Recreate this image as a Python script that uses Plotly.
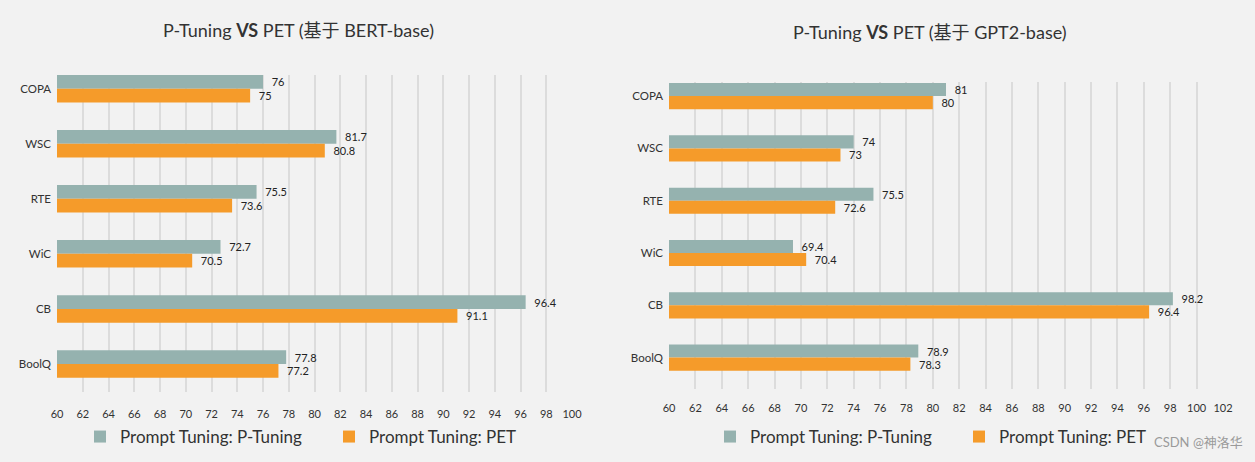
import plotly.graph_objects as go

categories = ["COPA", "WSC", "RTE", "WiC", "CB", "BoolQ"]

bert_ptuning = [76, 81.7, 75.5, 72.7, 96.4, 77.8]
bert_pet = [75, 80.8, 73.6, 70.5, 91.1, 77.2]

gpt2_ptuning = [81, 74, 75.5, 69.4, 98.2, 78.9]
gpt2_pet = [80, 73, 72.6, 70.4, 96.4, 78.3]

left_ticks = list(range(60, 101, 2))
right_ticks = list(range(60, 103, 2))

series_names = ["Prompt Tuning: P-Tuning", "Prompt Tuning: PET"]
titles = ["P-Tuning <b>VS</b> PET (基于 BERT-base)", "P-Tuning <b>VS</b> PET (基于 GPT2-base)"]

GRAY = "#95B2AF"
ORANGE = "#F59B2A"
BG = "#F2F2F2"
FONT = "Lato, 'Noto Sans CJK SC', sans-serif"

fig = go.Figure()

def fmt(vals):
    return [f"  {v:g}" for v in vals]

for xa, ya, leg, vals_pt, vals_pet in [
    ("x", "y", "legend", bert_ptuning, bert_pet),
    ("x2", "y2", "legend2", gpt2_ptuning, gpt2_pet),
]:
    fig.add_trace(go.Bar(
        y=categories, x=vals_pt, orientation="h", name=series_names[0],
        marker=dict(color=GRAY, line=dict(width=0)),
        text=fmt(vals_pt), textposition="outside", cliponaxis=False,
        textfont=dict(size=11, color="#222", family=FONT),
        xaxis=xa, yaxis=ya, legend=leg,
    ))
    fig.add_trace(go.Bar(
        y=categories, x=vals_pet, orientation="h", name=series_names[1],
        marker=dict(color=ORANGE, line=dict(width=0)),
        text=fmt(vals_pet), textposition="outside", cliponaxis=False,
        textfont=dict(size=11, color="#222", family=FONT),
        xaxis=xa, yaxis=ya, legend=leg,
    ))

axis_common = dict(
    showgrid=True, gridcolor="#DCDCDC", gridwidth=1.5, zeroline=False,
    showline=False, ticks="", automargin=False,
    tickfont=dict(size=11, color="#333", family=FONT),
)
ycommon = dict(showgrid=False, zeroline=False, showline=False, ticks="",
               automargin=False, ticklabelstandoff=5,
               tickfont=dict(size=11.5, color="#333", family=FONT))

legend_common = dict(orientation="h", xanchor="left", yanchor="middle",
                     font=dict(size=17, color="#333", family=FONT),
                     bgcolor="rgba(0,0,0,0)", itemwidth=30, traceorder="normal",
                     entrywidth=204, entrywidthmode="pixels")

fig.update_layout(
    width=1255, height=462,
    paper_bgcolor=BG, plot_bgcolor=BG,
    margin=dict(l=0, r=0, t=0, b=0, autoexpand=False),
    barmode="group", bargap=0.5, bargroupgap=0,
    font=dict(family=FONT, color="#333"),
    xaxis=dict(domain=[57/1255, 572/1255], range=[60, 100], tickvals=left_ticks,
               anchor="y", ticklabelstandoff=14, **axis_common),
    yaxis=dict(domain=[1-392/462, 1-75/462], range=[5.51, -0.25], anchor="x",
               categoryorder="array", categoryarray=categories, **ycommon),
    xaxis2=dict(domain=[669/1255, 1223/1255], range=[60, 102], tickvals=right_ticks,
                anchor="y2", ticklabelstandoff=11, **axis_common),
    yaxis2=dict(domain=[1-389/462, 1-82/462], range=[5.6, -0.27], anchor="x2",
                categoryorder="array", categoryarray=categories, **ycommon),
    legend=dict(x=80/1255, y=1-437/462, **legend_common),
    legend2=dict(x=710/1255, y=1-437/462, **legend_common),
    annotations=[
        dict(text=titles[0], x=298/1255, y=1-30/462, xref="paper", yref="paper",
             showarrow=False, font=dict(size=18, color="#333", family=FONT),
             xanchor="center", yanchor="middle"),
        dict(text=titles[1], x=930/1255, y=1-32/462, xref="paper", yref="paper",
             showarrow=False, font=dict(size=18, color="#333", family=FONT),
             xanchor="center", yanchor="middle"),
        dict(text="CSDN @神洛华", x=1245/1255, y=1-442/462, xref="paper", yref="paper",
             showarrow=False, font=dict(size=13, color="#9A9A9A", family=FONT),
             xanchor="right", yanchor="middle"),
    ],
)

fig.write_html(
    "out.html",
    config={"displayModeBar": False},
    post_script="document.body.style.margin='0';document.body.style.padding='0';document.body.style.overflow='hidden';",
)
